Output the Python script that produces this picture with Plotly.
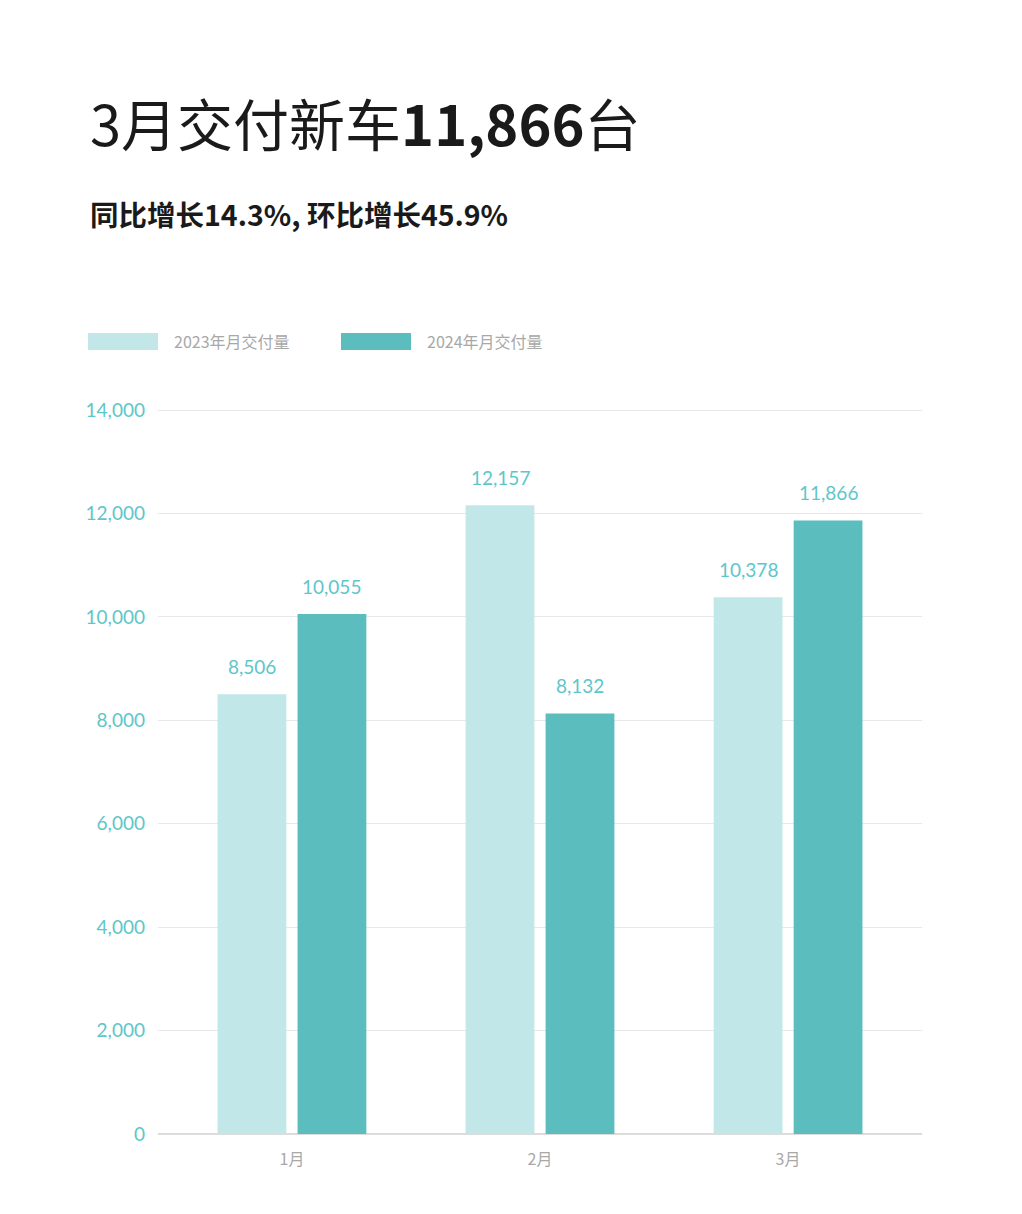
import plotly.graph_objects as go

months = ["1月", "2月", "3月"]
series_names = ["2023年月交付量", "2024年月交付量"]
deliveries_2023 = [8506, 12157, 10378]
deliveries_2024 = [10055, 8132, 11866]
y_ticks = [0, 2000, 4000, 6000, 8000, 10000, 12000, 14000]

colors = ["#c2e7e8", "#5bbdbd"]
teal_text = "#5ec6ca"
gray_text = "#a8a8a8"

W, H = 1022, 1214
OFF = 8  # page body offset
ml, mr, mt, mb = 158 - OFF, 100 + OFF, 409 - OFF, 80 + OFF
bargap, bargroupgap = 0.355, 0.14

x_pos = list(range(len(months)))
fig = go.Figure()
for name, vals, c in zip(series_names, [deliveries_2023, deliveries_2024], colors):
    fig.add_trace(go.Bar(x=x_pos, y=vals, name=name, marker=dict(color=c, line=dict(width=0)),
                         showlegend=False, hoverinfo="y"))

slot = (1 - bargap) / 2
annotations = []
for k, vals in enumerate([deliveries_2023, deliveries_2024]):
    off = (k - 0.5) * slot
    for i, v in enumerate(vals):
        annotations.append(dict(x=i + off, y=v, xref="x", yref="y", text=f"{v:,}", showarrow=False,
                                yshift=28, font=dict(family="Lato, Open Sans, sans-serif", size=19, color=teal_text)))

plot_h = H - mt - mb
plot_w = W - ml - mr
def px_to_paper_y(py):
    return (H - mb - (py - OFF)) / plot_h
def px_to_paper_x(px):
    return (px - OFF - ml) / plot_w

annotations.append(dict(xref="paper", yref="paper", x=px_to_paper_x(88), y=px_to_paper_y(121),
                        xanchor="left", yanchor="middle", showarrow=False,
                        text="3月交付新车<b>11,866</b>台",
                        font=dict(family="Noto Sans CJK SC, sans-serif", size=56, color="#1a1a1a")))
annotations.append(dict(xref="paper", yref="paper", x=px_to_paper_x(88), y=px_to_paper_y(213),
                        xanchor="left", yanchor="middle", showarrow=False,
                        text="<b>同比增长14.3%, 环比增长45.9%</b>",
                        font=dict(family="Noto Sans CJK SC, sans-serif", size=28.5, color="#1a1a1a")))

shapes = []
legend_x = [88, 341]
for name, c, lx in zip(series_names, colors, legend_x):
    shapes.append(dict(type="rect", xref="paper", yref="paper",
                       x0=px_to_paper_x(lx), x1=px_to_paper_x(lx + 70),
                       y0=px_to_paper_y(350), y1=px_to_paper_y(333),
                       fillcolor=c, line=dict(width=0)))
    annotations.append(dict(xref="paper", yref="paper", x=px_to_paper_x(lx + 84), y=px_to_paper_y(341),
                            xanchor="left", yanchor="middle", showarrow=False, text=name,
                            font=dict(family="Noto Sans CJK SC, sans-serif", size=16, color=gray_text)))

fig.update_layout(
    width=W, height=H,
    margin=dict(l=ml, r=mr, t=mt, b=mb),
    paper_bgcolor="white", plot_bgcolor="white",
    barmode="group", bargap=bargap, bargroupgap=bargroupgap,
    annotations=annotations, shapes=shapes,
    xaxis=dict(tickmode="array", tickvals=x_pos, ticktext=months, range=[-0.54, 2.54],
               showgrid=False, zeroline=False, showline=False, ticks="",
               tickfont=dict(family="Noto Sans CJK SC, sans-serif", size=16, color=gray_text),
               ticklabelstandoff=14),
    yaxis=dict(range=[0, 14020], tickmode="array", tickvals=y_ticks,
               ticktext=[f"{t:,}" for t in y_ticks],
               showgrid=True, gridcolor="#e8e8e8", gridwidth=1, zeroline=True, zerolinecolor="#dcdcdc",
               ticks="", showline=False,
               tickfont=dict(family="Lato, Open Sans, sans-serif", size=19, color=teal_text),
               ticklabelstandoff=12),
    font=dict(family="Noto Sans CJK SC, sans-serif"),
)

fig.write_html("out.html")
